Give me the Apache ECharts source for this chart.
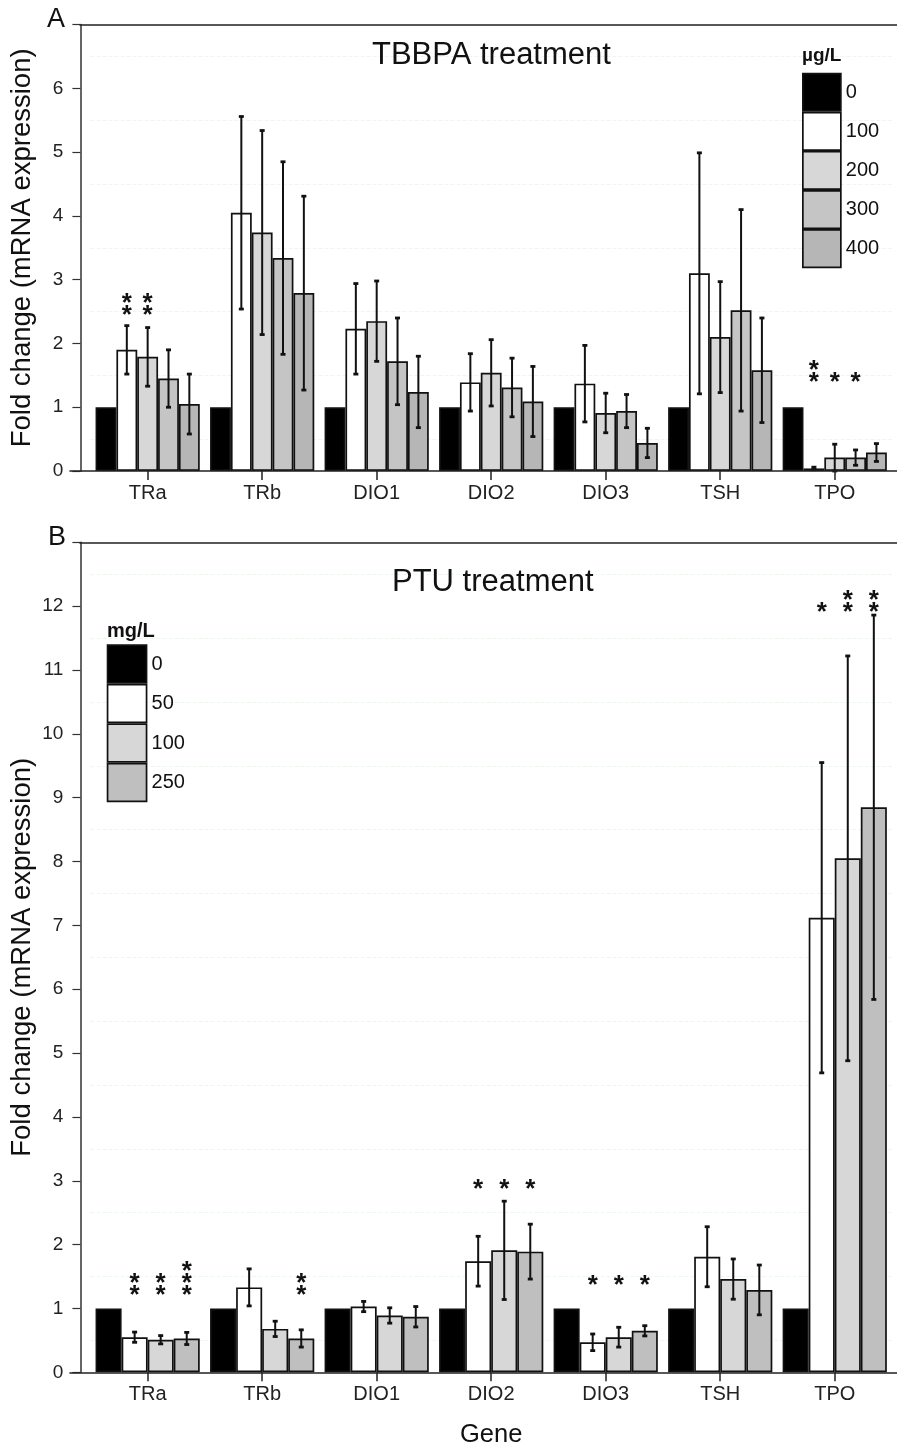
<!DOCTYPE html>
<html>
<head>
<meta charset="utf-8">
<script src="https://cdn.jsdelivr.net/npm/echarts@6/dist/echarts.min.js"></script>
<style>
html,body{margin:0;padding:0;background:#fff;}
#c{width:897px;height:1452px;}
</style>
</head>
<body>
<div id="c"></div>
<script>
// ---------- data ----------
const genes = ['TRa', 'TRb', 'DIO1', 'DIO2', 'DIO3', 'TSH', 'TPO'];
const yTicksA = [0, 1, 2, 3, 4, 5, 6];
const yTicksB = [0, 1, 2, 3, 4, 5, 6, 7, 8, 9, 10, 11, 12];

// Panel A: TBBPA (µg/L)
const tbbpaDoses = ['0', '100', '200', '300', '400'];
const tbbpa0   = [1, 1, 1, 1, 1, 1, 1];
const tbbpa100 = [1.90, 4.05, 2.23, 1.39, 1.37, 3.10, 0.04];
const tbbpa200 = [1.79, 3.74, 2.35, 1.54, 0.91, 2.10, 0.21];
const tbbpa300 = [1.45, 3.34, 1.72, 1.31, 0.94, 2.52, 0.21];
const tbbpa400 = [1.05, 2.79, 1.24, 1.09, 0.44, 1.58, 0.29];
const tbbpa100Err = [0.38, 1.51, 0.71, 0.45, 0.60, 1.89, 0.02];
const tbbpa200Err = [0.46, 1.60, 0.63, 0.52, 0.31, 0.87, 0.21];
const tbbpa300Err = [0.45, 1.51, 0.68, 0.46, 0.26, 1.58, 0.12];
const tbbpa400Err = [0.47, 1.52, 0.56, 0.55, 0.23, 0.82, 0.14];
// stars: [gene index, dose index, y of lowest star, number of stars]
const tbbpaStars = [[0, 1, 2.54, 2], [0, 2, 2.54, 2], [6, 1, 1.49, 2], [6, 2, 1.49, 1], [6, 3, 1.49, 1]];

// Panel B: PTU (mg/L)
const ptuDoses = ['0', '50', '100', '250'];
const ptu0   = [1, 1, 1, 1, 1, 1, 1];
const ptu50  = [0.55, 1.33, 1.03, 1.74, 0.47, 1.81, 7.12];
const ptu100 = [0.51, 0.68, 0.89, 1.91, 0.55, 1.46, 8.05];
const ptu250 = [0.53, 0.53, 0.87, 1.89, 0.65, 1.29, 8.85];
const ptu50Err  = [0.08, 0.29, 0.08, 0.39, 0.13, 0.47, 2.43];
const ptu100Err = [0.065, 0.12, 0.12, 0.77, 0.155, 0.315, 3.17];
const ptu250Err = [0.095, 0.135, 0.16, 0.43, 0.08, 0.39, 3.01];
const ptuStars = [[0, 1, 1.30, 2], [0, 2, 1.30, 2], [0, 3, 1.30, 3], [1, 3, 1.30, 2],
                  [3, 1, 2.96, 1], [3, 2, 2.96, 1], [3, 3, 2.96, 1],
                  [4, 1, 1.47, 1], [4, 2, 1.47, 1], [4, 3, 1.47, 1],
                  [6, 1, 12.0, 1], [6, 2, 12.0, 2], [6, 3, 12.0, 2]];

// ---------- styles ----------
const FONT = '"Liberation Sans", Arial, Helvetica, sans-serif';
const colorsA = ['#000000', '#ffffff', '#d7d7d7', '#c5c5c5', '#b6b6b6'];
const colorsB = ['#000000', '#ffffff', '#d7d7d7', '#bfbfbf'];
const CAT_GAP = 0.09;

const chart = echarts.init(document.getElementById('c'), null, {renderer: 'canvas'});

function errData(vals, errs, s) {
  return vals.map((v, i) => [i, s, v - errs[i], v + errs[i]]);
}

function errRender(n) {
  return function (params, api) {
    const cat = api.value(0), s = api.value(1), lo = Math.max(0, api.value(2)), hi = api.value(3);
    const band = api.size([1, 0])[0];
    const bw = band * (1 - CAT_GAP) / n;
    const x = api.coord([cat, 0])[0] + (s - (n - 1) / 2) * bw;
    const yT = api.coord([cat, hi])[1];
    const yB = api.coord([cat, lo])[1];
    const c = 2.5;
    return {
      type: 'group',
      children: [
        {type: 'line', shape: {x1: x, y1: yT, x2: x, y2: yB}, style: {stroke: '#111', lineWidth: 2}},
        {type: 'line', shape: {x1: x - c, y1: yT, x2: x + c, y2: yT}, style: {stroke: '#111', lineWidth: 2.8}},
        {type: 'line', shape: {x1: x - c, y1: yB, x2: x + c, y2: yB}, style: {stroke: '#111', lineWidth: 2.8}}
      ]
    };
  };
}

function starRender(n) {
  return function (params, api) {
    const cat = api.value(0), s = api.value(1), yv = api.value(2), cnt = api.value(3);
    const band = api.size([1, 0])[0];
    const bw = band * (1 - CAT_GAP) / n;
    const x = api.coord([cat, 0])[0] + (s - (n - 1) / 2) * bw;
    const y = api.coord([cat, yv])[1];
    const children = [];
    for (let k = 0; k < cnt; k++) {
      children.push({
        type: 'text',
        style: {text: '*', x: x, y: y - k * 12 + 7, textAlign: 'center', textVerticalAlign: 'middle',
                font: 'bold 26px ' + FONT, fill: '#111'}
      });
    }
    return {type: 'group', children: children};
  };
}

const PA = {top: 24.7, h: 446.3};
const PB = {top: 542.3, h: 830};
const GL = 90.4, GR = 5;

function valueAxis(gridIndex, max, ticks) {
  return {
    type: 'value', gridIndex: gridIndex, min: 0, max: max, interval: 1, offset: 10,
    name: 'Fold change (mRNA expression)', nameLocation: 'middle', nameGap: 44,
    nameMoveOverlap: false,
    nameTextStyle: {fontSize: 27.5, color: '#111', fontFamily: FONT},
    axisLine: {show: true, lineStyle: {color: '#555', width: 1.8}},
    axisTick: {show: true, length: 8, lineStyle: {color: '#333', width: 1.2}},
    axisLabel: {margin: 17, fontSize: 19, color: '#222', fontFamily: FONT,
                formatter: v => (ticks.indexOf(v) >= 0 ? String(v) : '')},
    splitLine: {show: false},
    minorTick: {show: false, splitNumber: 2},
    minorSplitLine: {show: true, lineStyle: {color: '#eef7ee', width: 1, type: 'dashed'}}
  };
}

function catAxis(gridIndex, withName) {
  const ax = {
    type: 'category', gridIndex: gridIndex, data: genes,
    axisLine: {show: false},
    axisTick: {show: true, alignWithLabel: true, length: 9, lineStyle: {color: '#222', width: 1.5}},
    axisLabel: {margin: 12, fontSize: 20, color: '#222', fontFamily: FONT},
    splitLine: {show: false}
  };
  if (withName) {
    ax.name = 'Gene'; ax.nameLocation = 'middle'; ax.nameGap = 50; ax.nameMoveOverlap = false;
    ax.nameTextStyle = {fontSize: 25.5, color: '#111', fontFamily: FONT, verticalAlign: 'top'};
  }
  return ax;
}

function decoX(gridIndex, pos) {
  return {
    type: 'value', gridIndex: gridIndex, position: pos, min: 0, max: 1, z: 10,
    axisLine: {show: true, onZero: false, lineStyle: {color: '#222', width: 1.6}},
    axisTick: {show: false}, axisLabel: {show: false}, splitLine: {show: false}
  };
}
function decoY(gridIndex) {
  return {type: 'value', gridIndex: gridIndex, show: false, min: 0, max: 1};
}

const barBase = {
  type: 'bar', barGap: '0%', barCategoryGap: (CAT_GAP * 100) + '%', z: 2
};

const seriesA = [tbbpa0, tbbpa100, tbbpa200, tbbpa300, tbbpa400].map((d, i) => Object.assign({}, barBase, {
  name: 'A ' + tbbpaDoses[i], xAxisIndex: 0, yAxisIndex: 0, data: d,
  itemStyle: {color: colorsA[i], borderColor: '#111', borderWidth: 1.7}
}));
const seriesB = [ptu0, ptu50, ptu100, ptu250].map((d, i) => Object.assign({}, barBase, {
  name: 'B ' + ptuDoses[i], xAxisIndex: 1, yAxisIndex: 1, data: d,
  itemStyle: {color: colorsB[i], borderColor: '#111', borderWidth: 1.7}
}));

const errA = [].concat(
  errData(tbbpa100, tbbpa100Err, 1), errData(tbbpa200, tbbpa200Err, 2),
  errData(tbbpa300, tbbpa300Err, 3), errData(tbbpa400, tbbpa400Err, 4));
const errB = [].concat(
  errData(ptu50, ptu50Err, 1), errData(ptu100, ptu100Err, 2), errData(ptu250, ptu250Err, 3));

const titleStyle = (size, bold) => ({fontSize: size, fontWeight: bold ? 'bold' : 'normal', color: '#111', fontFamily: FONT});

const gridBase = {containLabel: false, outerBoundsMode: 'none'};

const option = {
  backgroundColor: '#ffffff',
  animation: false,
  title: [
    {text: 'A', left: 47, top: 6, padding: 0, textStyle: titleStyle(27)},
    {text: 'TBBPA treatment', left: 372, top: 40, padding: 0, textStyle: titleStyle(31)},
    {text: 'µg/L', left: 802, top: 46, padding: 0, textStyle: titleStyle(19, true)},
    {text: 'B', left: 48, top: 524, padding: 0, textStyle: titleStyle(27)},
    {text: 'PTU treatment', left: 392, top: 567, padding: 0, textStyle: titleStyle(31)},
    {text: 'mg/L', left: 107, top: 621, padding: 0, textStyle: titleStyle(20, true)}
  ],
  legend: [
    {data: tbbpaDoses.map(d => 'A ' + d), orient: 'vertical', left: 802, top: 72.7, padding: 0,
     itemWidth: 38, itemHeight: 37.4, itemGap: 0, icon: 'rect', selectedMode: false,
     itemStyle: {borderColor: '#111', borderWidth: 1.7},
     formatter: n => n.split(' ')[1], textStyle: {fontSize: 20, color: '#111', fontFamily: FONT}},
    {data: ptuDoses.map(d => 'B ' + d), orient: 'vertical', left: 106.7, top: 644.3, padding: 0,
     itemWidth: 39, itemHeight: 37.8, itemGap: 0, icon: 'rect', selectedMode: false,
     itemStyle: {borderColor: '#111', borderWidth: 1.7},
     formatter: n => n.split(' ')[1], textStyle: {fontSize: 20, color: '#111', fontFamily: FONT}}
  ],
  grid: [
    Object.assign({left: GL, right: GR, top: PA.top, height: PA.h}, gridBase),
    Object.assign({left: GL, right: GR, top: PB.top, height: PB.h}, gridBase),
    Object.assign({left: 70, right: 0, top: PA.top, height: PA.h}, gridBase),
    Object.assign({left: 80, right: 0, top: PA.top, height: PA.h}, gridBase),
    Object.assign({left: 70, right: 0, top: PB.top, height: PB.h}, gridBase),
    Object.assign({left: 80, right: 0, top: PB.top, height: PB.h}, gridBase)
  ],
  xAxis: [catAxis(0, false), catAxis(1, true),
          decoX(2, 'bottom'), decoX(3, 'top'), decoX(4, 'bottom'), decoX(5, 'top')],
  yAxis: [valueAxis(0, 7, yTicksA), valueAxis(1, 13, yTicksB),
          decoY(2), decoY(3), decoY(4), decoY(5)],
  series: [].concat(seriesA, seriesB, [
    {type: 'custom', name: 'errA', xAxisIndex: 0, yAxisIndex: 0, z: 4, silent: true,
     renderItem: errRender(5), encode: {x: 0, y: [2, 3]}, data: errA},
    {type: 'custom', name: 'errB', xAxisIndex: 1, yAxisIndex: 1, z: 4, silent: true,
     renderItem: errRender(4), encode: {x: 0, y: [2, 3]}, data: errB},
    {type: 'custom', name: 'starA', xAxisIndex: 0, yAxisIndex: 0, z: 4, silent: true,
     renderItem: starRender(5), encode: {x: 0, y: 2}, data: tbbpaStars},
    {type: 'custom', name: 'starB', xAxisIndex: 1, yAxisIndex: 1, z: 4, silent: true,
     renderItem: starRender(4), encode: {x: 0, y: 2}, data: ptuStars}
  ])
};
chart.setOption(option);
</script>
</body>
</html>
